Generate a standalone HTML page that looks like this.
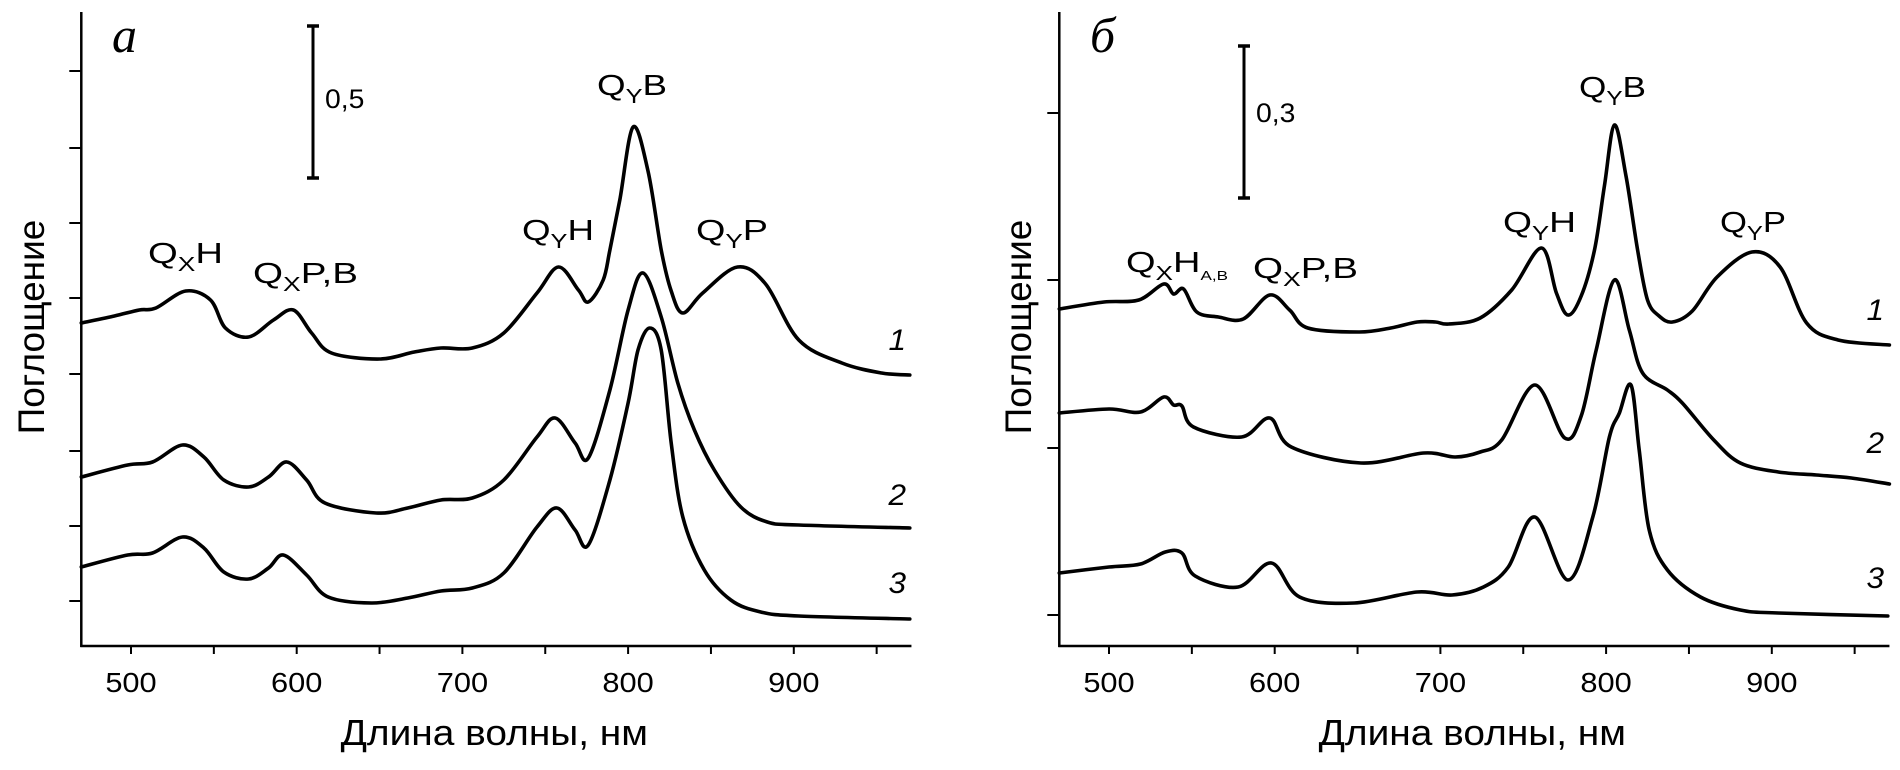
<!DOCTYPE html>
<html><head><meta charset="utf-8"><style>
html,body{margin:0;padding:0;background:#fff;}
svg{display:block;font-family:"Liberation Sans",Arial,sans-serif;}
</style></head><body>
<svg id="chart" width="1900" height="770" viewBox="0 0 1900 770"></svg>
<script>
// ---- data (relative absorbance units, offset per curve) ----
const wlA1 = [470,490,505,515,533,548,557,571,586,598,609,621,650,671,687,706,725,745,758,770,776,785,789,795,803,812,820,826,833,845,866,883,903,929,953,970];
const absA1 = [3.23,3.30,3.36,3.38,3.55,3.46,3.18,3.09,3.26,3.36,3.13,2.93,2.87,2.94,2.98,2.98,3.13,3.53,3.79,3.56,3.44,3.66,3.96,4.46,5.19,4.75,3.96,3.55,3.33,3.53,3.79,3.62,3.06,2.83,2.73,2.71];
const wlA2 = [470,498,513,531,544,556,571,583,594,606,617,648,667,687,706,725,745,756,768,776,789,800,809,820,830,840,852,868,884,903,970];
const absA2 = [1.69,1.81,1.84,2.01,1.89,1.66,1.59,1.69,1.84,1.66,1.43,1.33,1.38,1.46,1.48,1.66,2.09,2.28,2.03,1.88,2.56,3.36,3.73,3.29,2.63,2.16,1.76,1.39,1.24,1.21,1.18];
const wlA3 = [470,498,513,531,544,556,571,583,592,606,619,645,667,687,706,725,745,757,768,776,789,800,806,813,820,826,833,846,862,880,903,970];
const absA3 = [0.79,0.91,0.93,1.09,0.98,0.74,0.67,0.78,0.91,0.71,0.49,0.43,0.48,0.55,0.58,0.73,1.19,1.38,1.16,1.01,1.66,2.43,2.96,3.18,2.96,2.03,1.29,0.76,0.46,0.34,0.30,0.27];
const wlB1 = [470,497,518,533,539,545,553,566,581,597,609,620,651,670,686,697,705,724,743,761,770,777,785,793,799,805,812,819,825,832,840,852,867,888,905,921,940,971];
const absB1 = [3.37,3.44,3.46,3.62,3.52,3.57,3.34,3.29,3.27,3.51,3.36,3.18,3.14,3.18,3.24,3.24,3.22,3.28,3.56,3.98,3.53,3.31,3.50,3.96,4.60,5.21,4.70,3.96,3.46,3.30,3.24,3.35,3.69,3.94,3.79,3.23,3.06,3.01];
const wlB2 = [470,500,519,533,539,544,551,580,597,610,652,690,709,724,737,757,775,785,794,805,814,822,837,846,865,881,904,927,948,971];
const absB2 = [2.33,2.37,2.34,2.49,2.41,2.40,2.19,2.09,2.28,1.99,1.83,1.93,1.89,1.94,2.06,2.61,2.08,2.30,2.96,3.66,3.16,2.73,2.56,2.43,2.06,1.83,1.74,1.71,1.68,1.62];
const wlB3 = [470,500,519,534,544,552,578,598,615,648,686,707,726,741,757,777,792,802,808,815,820,826,837,857,881,904,970];
const absB3 = [0.73,0.79,0.82,0.94,0.93,0.70,0.59,0.83,0.49,0.43,0.54,0.51,0.59,0.79,1.29,0.66,1.29,2.09,2.33,2.61,1.96,1.16,0.76,0.49,0.36,0.33,0.30];
const xTicks = [500,550,600,650,700,750,800,850,900,950];
const xTickLabels = ["500","","600","","700","","800","","900",""];

const NS = "http://www.w3.org/2000/svg";
const svg = document.getElementById('chart');
function el(tag, attrs, parent){
  const e = document.createElementNS(NS, tag);
  for (const k in attrs) e.setAttribute(k, attrs[k]);
  (parent||svg).appendChild(e);
  return e;
}
function smoothPath(pts){
  let d = "M" + pts[0][0].toFixed(1) + "," + pts[0][1].toFixed(1);
  for (let i=0;i<pts.length-1;i++){
    const p0 = pts[Math.max(0,i-1)], p1 = pts[i], p2 = pts[i+1], p3 = pts[Math.min(pts.length-1,i+2)];
    const t = 6;
    const c1 = [p1[0]+(p2[0]-p0[0])/t, p1[1]+(p2[1]-p0[1])/t];
    const c2 = [p2[0]-(p3[0]-p1[0])/t, p2[1]-(p3[1]-p1[1])/t];
    d += "C"+c1[0].toFixed(1)+","+c1[1].toFixed(1)+" "+c2[0].toFixed(1)+","+c2[1].toFixed(1)+" "+p2[0].toFixed(1)+","+p2[1].toFixed(1);
  }
  return d;
}

function panel(cfg){
  const g = el('g', {});
  
  
  const x = w => cfg.x500 + (w-500)*1.657;
  const y = v => cfg.base - v*100;
  const left = x(470), right = x(971), bottom = 646;
  const ya = el('line', {x1:left, y1:12, x2:left, y2:bottom+1, stroke:'#000','stroke-width':2.5}, g);
  
  
  const xa = el('line', {x1:left-1, y1:bottom, x2:right, y2:bottom, stroke:'#000','stroke-width':2.5}, g);
  
  
  xTicks.forEach((t,i)=>{
    const tk = el('line', {x1:x(t), y1:bottom, x2:x(t), y2:bottom+8, stroke:'#000','stroke-width':2}, g);
    
    
    if (xTickLabels[i]){
      const tl = el('text', {x:0, y:0, 'font-size':28, 'text-anchor':'middle', transform:'translate('+x(t)+',692) scale(1.1,1)'}, g);
      tl.textContent = xTickLabels[i];
      
      
    }
  });
  cfg.yTicks.forEach(ty=>{
    const tk = el('line', {x1:left-12, y1:ty, x2:left, y2:ty, stroke:'#000','stroke-width':2}, g);
    
    
  });
  const xt = el('text', {x:0, y:0, 'font-size':36, 'text-anchor':'middle', transform:'translate('+(left+413)+',745) scale(1.08,1)'}, g);
  xt.textContent = 'Длина волны, нм';
  
  
  const yt = el('text', {x:0, y:0, 'font-size':37, 'text-anchor':'middle', transform:'translate('+cfg.yTitleX+',327) rotate(-90)'}, g);
  yt.textContent = 'Поглощение';
  
  
  const pl = el('text', {x:cfg.letterX, y:52, 'font-size':50, 'font-style':'italic', 'font-family':'"Liberation Serif",serif'}, g);
  pl.textContent = cfg.letter;
  
  
  const sb = el('g', {}, g);
  
  
  el('line', {x1:cfg.barX, y1:cfg.barTop, x2:cfg.barX, y2:cfg.barBot, stroke:'#000','stroke-width':3}, sb);
  el('line', {x1:cfg.barX-6, y1:cfg.barTop, x2:cfg.barX+6, y2:cfg.barTop, stroke:'#000','stroke-width':3.5}, sb);
  el('line', {x1:cfg.barX-6, y1:cfg.barBot, x2:cfg.barX+6, y2:cfg.barBot, stroke:'#000','stroke-width':3.5}, sb);
  const sbl = el('text', {x:0, y:0, 'font-size':27, transform:'translate('+(cfg.barX+12)+','+cfg.barLabelY+') scale(1.05,1)'}, sb);
  sbl.textContent = cfg.barLabel;
  cfg.series.forEach((s,i)=>{
    const pts = s.wl.map((w,j)=>[x(w), y(s.ab[j])]);
    const p = el('path', {d:smoothPath(pts), fill:'none', stroke:'#000','stroke-width':3.6,'stroke-linejoin':'round','stroke-linecap':'round'}, g);
    
    
    const lb = el('text', {x:0, y:0, 'font-size':30, 'font-style':'italic', transform:'translate('+(right-23)+','+s.labelY+') scale(1.05,1)'}, g);
    lb.textContent = String(i+1);
    
    
  });
  cfg.peaks.forEach(pk=>{
    const t = el('text', {x:pk.x, y:pk.y, 'font-size':29, textLength:pk.w, lengthAdjust:'spacingAndGlyphs'}, g);
    
    
    const a = el('tspan', {}, t); a.textContent = 'Q';
    const b = el('tspan', {'font-size':20, dy:8}, t); b.textContent = pk.sub;
    const c = el('tspan', {dy:-8}, t); c.textContent = pk.rest;
    if (pk.sub2){ const d2 = el('tspan', {'font-size':13, dy:8}, t); d2.textContent = pk.sub2; }
  });
}

panel({name:'panel-a', x500:131, base:646, yTicks:[71,148,223,298,374,451,526,601], yTitleX:44,
  letter:'a', letterX:112, barX:313, barTop:26, barBot:178, barLabel:'0,5', barLabelY:108,
  series:[{wl:wlA1, ab:absA1, labelY:350},{wl:wlA2, ab:absA2, labelY:505},{wl:wlA3, ab:absA3, labelY:593}],
  peaks:[{x:148,y:263,w:75,sub:'X',rest:'H'},{x:253,y:283,w:105,sub:'X',rest:'P,B'},
         {x:522,y:240,w:72,sub:'Y',rest:'H'},{x:597,y:95,w:70,sub:'Y',rest:'B'},{x:696,y:240,w:72,sub:'Y',rest:'P'}]
});
panel({name:'panel-b', x500:1109, base:646, yTicks:[113,280,448,615], yTitleX:1031,
  letter:'б', letterX:1090, barX:1244, barTop:46, barBot:198, barLabel:'0,3', barLabelY:122,
  series:[{wl:wlB1, ab:absB1, labelY:320},{wl:wlB2, ab:absB2, labelY:453},{wl:wlB3, ab:absB3, labelY:588}],
  peaks:[{x:1126,y:272,w:102,sub:'X',rest:'H',sub2:'A,B'},{x:1253,y:278,w:105,sub:'X',rest:'P,B'},
         {x:1503,y:232,w:73,sub:'Y',rest:'H'},{x:1579,y:97,w:67,sub:'Y',rest:'B'},{x:1720,y:232,w:66,sub:'Y',rest:'P'}]
});
</script>
</body></html>
